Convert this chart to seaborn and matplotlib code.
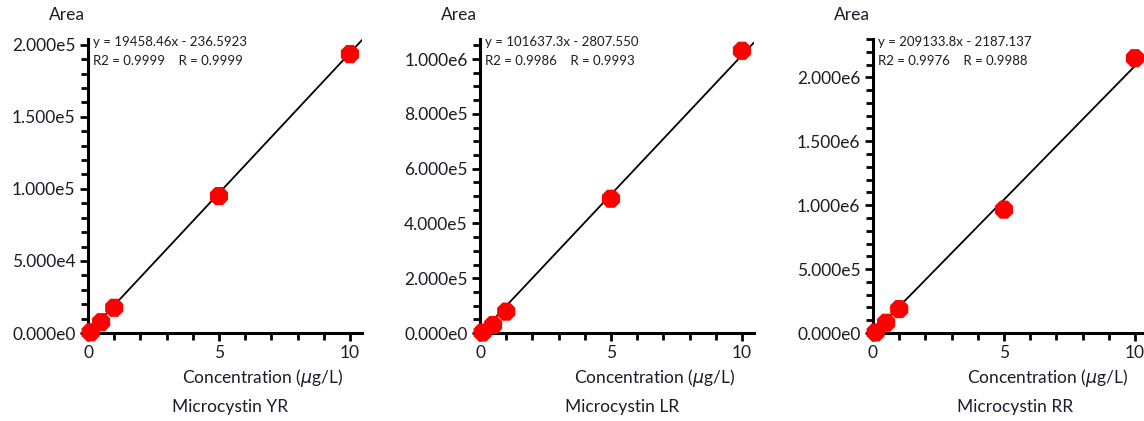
import numpy as np
import pandas as pd
import matplotlib
matplotlib.use("Agg")
import matplotlib.pyplot as plt
import seaborn as sns
from matplotlib.ticker import MultipleLocator, FuncFormatter

# ---- data ----
conc = [0.1, 0.5, 1.0, 5.0, 10.0]
area_yr = [500, 7500, 17500, 95000, 193500]
area_lr = [2000, 29000, 78000, 490000, 1030000]
area_rr = [5000, 80000, 187000, 965000, 2150000]

names = ["Microcystin YR", "Microcystin LR", "Microcystin RR"]
slopes = [19458.46, 101637.3, 209133.8]
intercepts = [-236.5923, -2807.550, -2187.137]
eq_texts = ["y = 19458.46x - 236.5923", "y = 101637.3x - 2807.550", "y = 209133.8x - 2187.137"]
r_texts = ["R2 = 0.9999    R = 0.9999", "R2 = 0.9986    R = 0.9993", "R2 = 0.9976    R = 0.9988"]
y_major = [5e4, 2e5, 5e5]
y_minor = [1e4, 5e4, 1e5]
y_top = [2.04e5, 1.073e6, 2.30e6]
x_ticks = [0, 5, 10]

sns.set_theme(style="ticks")
plt.rcParams["font.family"] = ["Lato", "DejaVu Sans"]
plt.rcParams["mathtext.fontset"] = "dejavusans"

W, H = 1144, 421
fig = plt.figure(figsize=(W / 100, H / 100), dpi=100)
TXT = "#1c1c28"

lefts = [88, 480, 873]
ax_w = 274
bottom_px, top_px = 333, 39
xmax = 10.46


def fmt(v, pos):
    if v == 0:
        return "0.000e0"
    e = int(np.floor(np.log10(abs(v)) + 1e-9))
    return f"{v / 10**e:.3f}e{e}"


all_area = [area_yr, area_lr, area_rr]
for i in range(3):
    ax = fig.add_axes([lefts[i] / W, (H - bottom_px) / H, ax_w / W, (bottom_px - top_px) / H])
    df = pd.DataFrame({"conc": conc, "area": all_area[i]})
    xl = np.array([0.0, xmax])
    fit = pd.DataFrame({"x": xl, "y": slopes[i] * xl + intercepts[i]})
    sns.lineplot(data=fit, x="x", y="y", ax=ax, color="black", linewidth=1.3, zorder=2)
    sns.scatterplot(data=df, x="conc", y="area", ax=ax, color="#ff0000", marker="8",
                    s=200, edgecolor="none", zorder=3, clip_on=False)
    ax.set_xlim(0, xmax)
    ax.set_ylim(0, y_top[i])
    sns.despine(ax=ax)
    for sp in ["left", "bottom"]:
        ax.spines[sp].set_linewidth(2.2)
        ax.spines[sp].set_color("black")
    ax.xaxis.set_major_locator(MultipleLocator(5))
    ax.xaxis.set_minor_locator(MultipleLocator(1))
    ax.yaxis.set_major_locator(MultipleLocator(y_major[i]))
    ax.yaxis.set_minor_locator(MultipleLocator(y_minor[i]))
    ax.yaxis.set_major_formatter(FuncFormatter(fmt))
    ax.tick_params(which="major", length=6, width=2.0, color="black", labelsize=12.5,
                   labelcolor=TXT, pad=3)
    ax.tick_params(which="minor", length=5, width=2.0, color="black")
    ax.set_xlabel("")
    ax.set_ylabel("")
    ax.text(0.93, -0.153, "Concentration ($\\mu$g/L)", transform=ax.transAxes,
            ha="right", va="center", fontsize=12.5, color=TXT)
    ax.text(0.52, -0.252, names[i], transform=ax.transAxes,
            ha="center", va="center", fontsize=12.5, color=TXT)
    ax.text(-0.077, 1.082, "Area", transform=ax.transAxes,
            ha="center", va="center", fontsize=12.5, color=TXT)
    ax.text(0.018, 0.99, eq_texts[i], transform=ax.transAxes,
            ha="left", va="center", fontsize=9.5, color=TXT)
    ax.text(0.018, 0.925, r_texts[i], transform=ax.transAxes,
            ha="left", va="center", fontsize=9.5, color=TXT)

fig.savefig("out.png", dpi=100, facecolor="white")
